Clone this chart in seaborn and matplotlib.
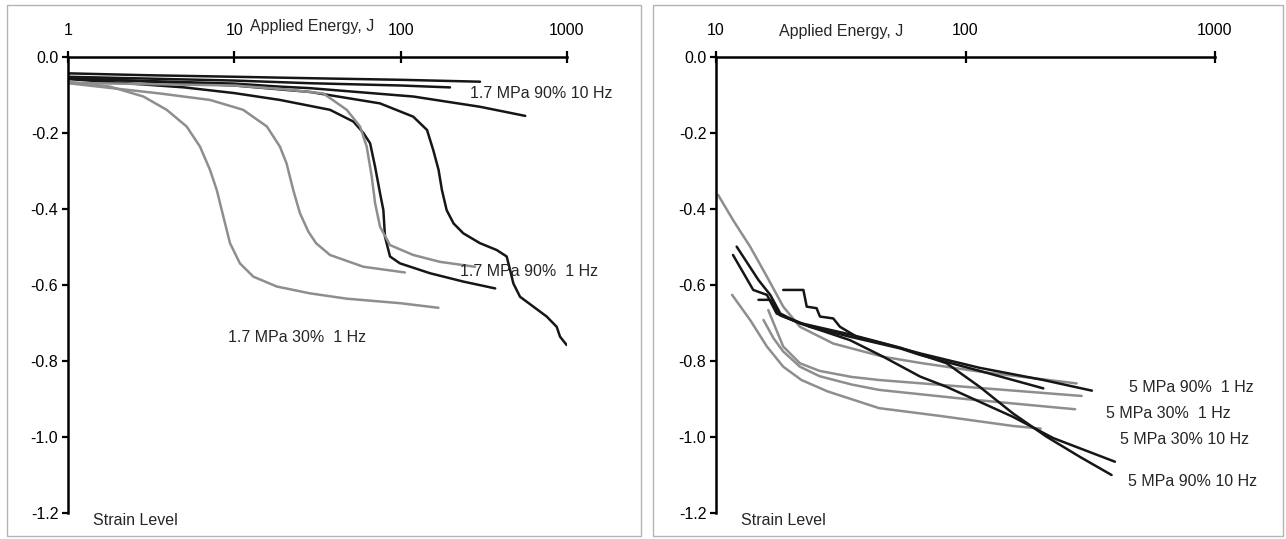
import pandas as pd
import seaborn as sns
import matplotlib.pyplot as plt
from matplotlib.patches import Rectangle

sns.set_style("white")
plt.rcParams["font.family"] = ["Liberation Sans", "DejaVu Sans"]
plt.rcParams["axes.unicode_minus"] = False

# left panel, 1.7 MPa
l_90_10hz_a_e = [1, 3, 10, 30, 100, 300]
l_90_10hz_a_s = [-0.043, -0.048, -0.052, -0.056, -0.060, -0.065]
l_90_10hz_b_e = [1, 10, 28.5, 100, 198]
l_90_10hz_b_s = [-0.052, -0.062, -0.069, -0.075, -0.080]
l_90_10hz_c_e = [1, 10, 18.8, 28.5, 119, 300, 561]
l_90_10hz_c_s = [-0.057, -0.070, -0.078, -0.082, -0.104, -0.131, -0.155]

l_90_1hz_a_e = [1, 5, 10, 18.8, 37.6, 52, 59.7, 65.5, 70.2, 75.2, 78.7, 80.5, 86.3, 99, 150, 238, 370]
l_90_1hz_a_s = [-0.058, -0.080, -0.095, -0.113, -0.139, -0.170, -0.200, -0.227, -0.289, -0.359,
                -0.403, -0.473, -0.525, -0.543, -0.569, -0.591, -0.609]
l_90_1hz_b_e = [1, 10, 28.5, 75, 119, 144, 157, 169, 177, 189, 208, 238, 300, 378, 434, 455, 476,
                522, 628, 755, 867, 908, 996]
l_90_1hz_b_s = [-0.055, -0.075, -0.092, -0.122, -0.157, -0.192, -0.245, -0.297, -0.350, -0.403,
                -0.438, -0.464, -0.490, -0.508, -0.525, -0.561, -0.596, -0.631, -0.657, -0.683,
                -0.710, -0.736, -0.758]

l_30_1hz_a_e = [1, 1.79, 2.84, 3.92, 5.17, 6.22, 7.14, 7.84, 8.59, 9.42, 10.8, 13.0, 18.0, 28.5,
                47.4, 100, 168.6]
l_30_1hz_a_s = [-0.065, -0.078, -0.104, -0.139, -0.183, -0.236, -0.297, -0.350, -0.420, -0.490,
                -0.543, -0.578, -0.604, -0.622, -0.636, -0.648, -0.660]
l_30_1hz_b_e = [1, 3.57, 7.14, 11.3, 15.7, 18.8, 20.6, 22.6, 24.8, 27.9, 31, 37.6, 59.7, 106]
l_30_1hz_b_s = [-0.069, -0.096, -0.113, -0.139, -0.183, -0.236, -0.280, -0.350, -0.411, -0.460,
                -0.490, -0.521, -0.552, -0.567]
l_30_1hz_c_e = [1, 10, 20, 34.3, 47.4, 57, 62.5, 67, 70.2, 75.2, 86.3, 119, 172, 280]
l_30_1hz_c_s = [-0.068, -0.075, -0.085, -0.096, -0.139, -0.183, -0.236, -0.315, -0.385, -0.447,
                -0.495, -0.521, -0.539, -0.552]

# right panel, 5 MPa
r_30_a_e = [10.2, 11.7, 13.7, 16, 18.6, 21.7, 29.5, 46.9, 65.8, 114, 279]
r_30_a_s = [-0.363, -0.429, -0.499, -0.578, -0.657, -0.710, -0.754, -0.789, -0.805, -0.828, -0.859]
r_30_b_e = [11.6, 13.7, 16, 18.6, 22, 28, 45, 80, 155, 200]
r_30_b_s = [-0.626, -0.692, -0.762, -0.815, -0.850, -0.880, -0.924, -0.945, -0.971, -0.978]
r_30_c_e = [15.5, 17, 18.6, 21.7, 26, 35, 45, 100, 275]
r_30_c_s = [-0.692, -0.740, -0.775, -0.815, -0.840, -0.862, -0.876, -0.900, -0.927]
r_30_d_e = [16.2, 17.5, 18.6, 21.7, 26, 35, 45, 100, 292]
r_30_d_s = [-0.666, -0.720, -0.762, -0.806, -0.826, -0.842, -0.850, -0.868, -0.892]

r_90_1hz_a_e = [18.6, 22.4, 23.1, 25.3, 26.1, 29.5, 31.4, 36.6, 46.9, 65.8, 114, 205, 321]
r_90_1hz_a_s = [-0.613, -0.613, -0.657, -0.661, -0.683, -0.688, -0.710, -0.736, -0.754, -0.780,
                -0.818, -0.850, -0.878]
r_90_1hz_b_e = [12.1, 14.8, 16.5, 18.1, 19.8, 23.8, 34.4, 54.8, 65.8, 114, 205]
r_90_1hz_b_s = [-0.499, -0.587, -0.626, -0.675, -0.688, -0.710, -0.736, -0.767, -0.784, -0.826, -0.872]
r_90_10hz_a_e = [11.7, 14.1, 16.0, 17.5, 21.7, 34.4, 46.9, 65.8, 84, 155, 225, 397]
r_90_10hz_a_s = [-0.521, -0.613, -0.626, -0.675, -0.701, -0.745, -0.789, -0.841, -0.868, -0.947,
                 -1.003, -1.065]
r_90_10hz_b_e = [14.8, 16.5, 18.1, 21.7, 34.4, 54.8, 84, 114, 155, 211, 287, 385]
r_90_10hz_b_s = [-0.639, -0.639, -0.680, -0.700, -0.730, -0.765, -0.806, -0.868, -0.938, -0.999,
                 -1.052, -1.100]

curves = [
    ("left", "90%", "l_90_10hz_a", l_90_10hz_a_e, l_90_10hz_a_s),
    ("left", "90%", "l_90_10hz_b", l_90_10hz_b_e, l_90_10hz_b_s),
    ("left", "90%", "l_90_10hz_c", l_90_10hz_c_e, l_90_10hz_c_s),
    ("left", "30%", "l_30_1hz_a", l_30_1hz_a_e, l_30_1hz_a_s),
    ("left", "30%", "l_30_1hz_b", l_30_1hz_b_e, l_30_1hz_b_s),
    ("left", "30%", "l_30_1hz_c", l_30_1hz_c_e, l_30_1hz_c_s),
    ("left", "90%", "l_90_1hz_a", l_90_1hz_a_e, l_90_1hz_a_s),
    ("left", "90%", "l_90_1hz_b", l_90_1hz_b_e, l_90_1hz_b_s),
    ("right", "30%", "r_30_a", r_30_a_e, r_30_a_s),
    ("right", "30%", "r_30_b", r_30_b_e, r_30_b_s),
    ("right", "30%", "r_30_c", r_30_c_e, r_30_c_s),
    ("right", "30%", "r_30_d", r_30_d_e, r_30_d_s),
    ("right", "90%", "r_90_1hz_a", r_90_1hz_a_e, r_90_1hz_a_s),
    ("right", "90%", "r_90_1hz_b", r_90_1hz_b_e, r_90_1hz_b_s),
    ("right", "90%", "r_90_10hz_a", r_90_10hz_a_e, r_90_10hz_a_s),
    ("right", "90%", "r_90_10hz_b", r_90_10hz_b_e, r_90_10hz_b_s),
]

rows = []
for panel, group, name, e, s in curves:
    for i, (xe, ys) in enumerate(zip(e, s)):
        rows.append({"panel": panel, "group": group, "curve": name, "i": i,
                     "energy": xe, "strain": ys})
df = pd.DataFrame(rows)

palette = {"90%": "#161616", "30%": "#8e8e8e"}

W, H = 1286, 539
fig = plt.figure(figsize=(W / 100, H / 100), dpi=100)

# panel frames
for x0, x1 in [(7, 641), (653, 1283)]:
    fig.patches.append(Rectangle((x0 / W, 1 - 536 / H), (x1 - x0) / W, 531 / H,
                                 transform=fig.transFigure, fill=False,
                                 edgecolor="#b4b4b4", lw=1.0))

panels = {
    "left": dict(x0=68, x1=567, xlim=(1, 1000), ticks=[1, 10, 100, 1000],
                 xlab=(0.489, 1.057),
                 notes=[("1.7 MPa 90% 10 Hz", 541, 93),
                        ("1.7 MPa 90%  1 Hz", 529, 271),
                        ("1.7 MPa 30%  1 Hz", 297, 338)]),
    "right": dict(x0=716, x1=1215, xlim=(10, 1000), ticks=[10, 100, 1000],
                  xlab=(0.250, 1.046),
                  notes=[("5 MPa 90%  1 Hz", 1191, 388),
                         ("5 MPa 30%  1 Hz", 1168, 413),
                         ("5 MPa 30% 10 Hz", 1184, 439),
                         ("5 MPa 90% 10 Hz", 1192, 482)]),
}

fs = 11.5
top, bottom = 57, 513
for name, p in panels.items():
    ax = fig.add_axes([p["x0"] / W, 1 - bottom / H, (p["x1"] - p["x0"]) / W, (bottom - top) / H])
    sub = df[df["panel"] == name]
    sns.lineplot(data=sub, x="energy", y="strain", hue="group", units="curve",
                 estimator=None, sort=False, palette=palette, legend=False,
                 linewidth=1.8, ax=ax)
    ax.set_xscale("log")
    ax.set_xlim(*p["xlim"])
    ax.set_ylim(-1.2, 0)
    ax.set_facecolor("none")

    for side in ["bottom", "right"]:
        ax.spines[side].set_visible(False)
    for side in ["top", "left"]:
        ax.spines[side].set_visible(True)
        ax.spines[side].set_linewidth(1.8)
        ax.spines[side].set_color("black")

    ax.xaxis.set_ticks_position("top")
    ax.xaxis.set_label_position("top")
    ax.set_xticks(p["ticks"])
    ax.set_xticklabels([str(t) for t in p["ticks"]])
    ax.xaxis.set_minor_locator(plt.NullLocator())
    ax.tick_params(axis="x", which="major", direction="inout", length=9, width=1.6,
                   pad=9, labelsize=fs, colors="black", top=True, bottom=False)
    ax.set_yticks([0, -0.2, -0.4, -0.6, -0.8, -1.0, -1.2])
    ax.set_yticklabels(["0.0", "-0.2", "-0.4", "-0.6", "-0.8", "-1.0", "-1.2"])
    ax.tick_params(axis="y", direction="out", length=4, width=1.6, pad=3,
                   labelsize=fs, colors="black", left=True)

    ax.set_xlabel("Applied Energy, J", fontsize=fs)
    ax.xaxis.set_label_coords(*p["xlab"])
    ax.set_ylabel("Strain Level", fontsize=fs, rotation=0, ha="left", va="center")
    ax.yaxis.set_label_coords(0.05, -0.0175)

    for txt, px, py in p["notes"]:
        ax.text(px / W, 1 - py / H, txt, transform=fig.transFigure, fontsize=fs,
                ha="center", va="center")

fig.savefig("out.png", dpi=100)
